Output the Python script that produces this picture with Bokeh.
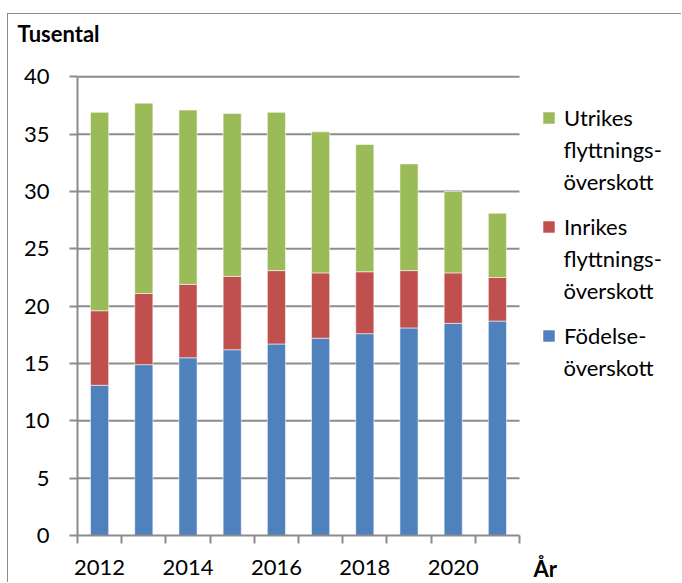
from bokeh.plotting import figure
from bokeh.models import FixedTicker, Label, Legend, LegendItem
from bokeh.embed import file_html
from bokeh.resources import INLINE

# ---- data (thousands) ----
years = [2012, 2013, 2014, 2015, 2016, 2017, 2018, 2019, 2020, 2021]
fodelse = [13.1, 14.9, 15.5, 16.2, 16.7, 17.2, 17.6, 18.1, 18.5, 18.7]
inrikes = [6.5, 6.2, 6.4, 6.4, 6.4, 5.7, 5.4, 5.0, 4.4, 3.8]
utrikes = [17.3, 16.6, 15.2, 14.2, 13.8, 12.3, 11.1, 9.3, 7.1, 5.6]
y_ticks = [0, 5, 10, 15, 20, 25, 30, 35, 40]
label_years = [2012, 2014, 2016, 2018, 2020]
legend_first = ["Födelse-", "Inrikes", "Utrikes"]
legend_rest = [["överskott"], ["flyttnings-", "överskott"], ["flyttnings-", "överskott"]]
colors = ["#4F81BD", "#C0504D", "#9BBB59"]

FONT = "Lato"
GRID = "#8C8C8C"
FS = "22px"

W, H = 674, 569
LEFT, TOP, BOTTOM = 69, 60, 48
AXIS_W = 442  # pixel width of the category axis

n = len(years)
xs = [i + 0.5 for i in range(n)]
data = dict(x=xs, fodelse=fodelse, inrikes=inrikes, utrikes=utrikes)

p = figure(width=W, height=H, x_range=(0, n * (W - LEFT) / AXIS_W), y_range=(0, 40.2),
           output_backend="svg", toolbar_location=None,
           min_border_left=LEFT, min_border_right=0, min_border_top=TOP, min_border_bottom=BOTTOM,
           styles={"border-left": "1px solid #8C8C8C", "border-top": "1px solid #8C8C8C",
                   "margin-top": "13px", "margin-left": "7px"})
p.outline_line_color = None
p.background_fill_color = "white"
p.border_fill_color = "white"

# gridlines (limited to the category area)
p.segment(x0=0, x1=n, y0=y_ticks[1:], y1=y_ticks[1:], line_color=GRID, line_width=2)

renderers = p.vbar_stack(["fodelse", "inrikes", "utrikes"], x="x", width=0.41, source=data,
                         color=colors, line_color="white", line_alpha=0.55, line_width=1)

# axes
p.yaxis.ticker = FixedTicker(ticks=y_ticks)
p.yaxis.bounds = (0, 40)
p.yaxis.major_tick_out = 8
p.yaxis.major_tick_in = 0
p.yaxis.minor_tick_line_color = None
p.yaxis.axis_line_color = GRID
p.yaxis.axis_line_width = 2
p.yaxis.major_tick_line_color = GRID
p.yaxis.major_tick_line_width = 2
p.yaxis.major_label_text_font = FONT
p.yaxis.major_label_text_font_size = FS
p.yaxis.major_label_text_color = "black"
p.yaxis.major_label_standoff = 20

label_pos = [years.index(y) + 0.5 for y in label_years]
p.xaxis.ticker = FixedTicker(ticks=label_pos, minor_ticks=list(range(n + 1)))
p.xaxis.bounds = (0, n)
p.xaxis.major_label_overrides = {pos: str(y) for pos, y in zip(label_pos, label_years)}
p.xaxis.major_tick_out = 0
p.xaxis.major_tick_in = 0
p.xaxis.minor_tick_out = 8
p.xaxis.minor_tick_in = 0
p.xaxis.minor_tick_line_color = GRID
p.xaxis.minor_tick_line_width = 2
p.xaxis.axis_line_color = GRID
p.xaxis.axis_line_width = 2
p.xaxis.major_label_text_font = FONT
p.xaxis.major_label_text_font_size = FS
p.xaxis.major_label_text_color = "black"
p.xaxis.major_label_standoff = 16

p.grid.grid_line_color = None

# legend (first line of each entry), continuation lines as labels
items = [LegendItem(label=legend_first[i], renderers=[renderers[i]]) for i in (2, 1, 0)]
legend = Legend(items=items, location=(464, 185), orientation="vertical",
                glyph_width=15, glyph_height=15, label_standoff=8, spacing=79, label_height=30,
                padding=0, margin=0, border_line_color=None, background_fill_alpha=0,
                label_text_font=FONT, label_text_font_size=FS, label_text_color="black")
p.add_layout(legend)

def screen_y(canvas_y):
    return H - BOTTOM - canvas_y

first_baseline = 103  # canvas y of first legend line
pitch, line_step = 109, 32
for k, i in enumerate((2, 1, 0)):
    for j, txt in enumerate(legend_rest[i]):
        p.add_layout(Label(x=486, y=screen_y(first_baseline + k * pitch + (j + 1) * line_step),
                           x_units="screen", y_units="screen", text=txt, text_baseline="alphabetic",
                           text_font=FONT, text_font_size=FS, text_color="black"))

# axis titles placed in the top panel (canvas coordinates)
p.add_layout(Label(x=8, y=18, x_units="canvas", y_units="canvas", text="Tusental",
                   text_baseline="alphabetic",
                   text_font=FONT, text_font_size=FS, text_font_style="bold", text_color="black"), "above")
p.add_layout(Label(x=524, y=553, x_units="canvas", y_units="canvas", text="År",
                   text_baseline="alphabetic",
                   text_font=FONT, text_font_size=FS, text_font_style="bold", text_color="black"), "above")

open("out.html", "w").write(file_html(p, INLINE))
